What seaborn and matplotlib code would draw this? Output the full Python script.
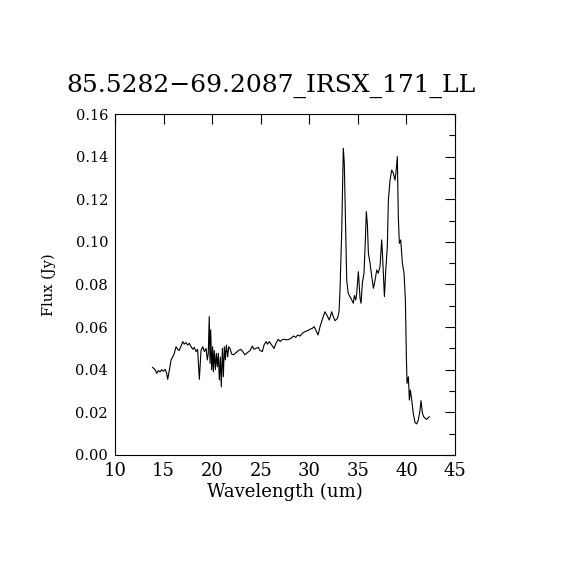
import numpy as np
import pandas as pd
import seaborn as sns
import matplotlib.pyplot as plt
from matplotlib.ticker import MultipleLocator, FormatStrFormatter

# Spectrum values
wavelength = [
    13.84, 14.12, 14.30, 14.46, 14.63, 14.80, 14.97, 15.15, 15.32, 15.42,
    15.60, 15.77, 15.94, 16.10, 16.28, 16.45, 16.60, 16.80, 16.97, 17.13,
    17.30, 17.48, 17.65, 17.80, 18.00, 18.16, 18.34, 18.50, 18.68, 18.85,
    19.03, 19.20, 19.37, 19.50, 19.60, 19.70, 19.78, 19.85, 19.95, 20.05,
    20.12, 20.22, 20.33, 20.43, 20.53, 20.63, 20.74, 20.84, 20.94, 21.05,
    21.15, 21.25, 21.36, 21.46, 21.60, 21.70, 21.84, 22.00, 22.18, 22.46,
    22.70, 22.94, 23.15, 23.38, 23.62, 23.90, 24.13, 24.30, 24.50, 24.75,
    24.93, 25.16, 25.34, 25.55, 25.70, 25.88, 26.13, 26.37, 26.57, 26.80,
    27.00, 27.16, 27.40, 27.67, 27.94, 28.19, 28.36, 28.60, 28.80, 29.04,
    29.28, 29.56, 29.80, 30.07, 30.30, 30.49, 30.66, 30.90, 31.10, 31.38,
    31.60, 31.80, 32.06, 32.30, 32.47, 32.65, 32.90, 33.06, 33.16, 33.34,
    33.44, 33.50, 33.60, 33.71, 33.85, 34.00, 34.19, 34.37, 34.53, 34.64,
    34.78, 34.88, 35.05, 35.22, 35.32, 35.46, 35.63, 35.77, 35.87, 35.98,
    36.08, 36.25, 36.43, 36.60, 36.77, 36.94, 37.10, 37.28, 37.45, 37.56,
    37.73, 37.87, 38.03, 38.14, 38.31, 38.48, 38.65, 38.82, 38.93, 39.06,
    39.16, 39.27, 39.41, 39.58, 39.75, 39.89, 39.99, 40.06, 40.20, 40.30,
    40.40, 40.54, 40.70, 40.88, 41.06, 41.22, 41.40, 41.50, 41.64, 41.80,
    42.08, 42.36,
]
flux = [
    0.0412, 0.0400, 0.0383, 0.0396, 0.0390, 0.0400, 0.0393, 0.0402, 0.0383, 0.0355,
    0.0400, 0.0446, 0.0460, 0.0477, 0.0508, 0.0496, 0.0490, 0.0511, 0.0532, 0.0520,
    0.0527, 0.0516, 0.0524, 0.0510, 0.0496, 0.0505, 0.0485, 0.0496, 0.0355, 0.0490,
    0.0508, 0.0485, 0.0500, 0.0446, 0.0477, 0.0649, 0.0430, 0.0587, 0.0400, 0.0508,
    0.0390, 0.0490, 0.0400, 0.0477, 0.0414, 0.0477, 0.0352, 0.0460, 0.0320, 0.0500,
    0.0367, 0.0508, 0.0446, 0.0516, 0.0460, 0.0508, 0.0500, 0.0474, 0.0470, 0.0480,
    0.0490, 0.0496, 0.0485, 0.0470, 0.0480, 0.0490, 0.0511, 0.0496, 0.0500, 0.0505,
    0.0490, 0.0485, 0.0516, 0.0532, 0.0520, 0.0532, 0.0516, 0.0500, 0.0524, 0.0543,
    0.0532, 0.0540, 0.0543, 0.0540, 0.0543, 0.0550, 0.0558, 0.0552, 0.0563, 0.0558,
    0.0571, 0.0579, 0.0583, 0.0590, 0.0594, 0.0602, 0.0587, 0.0563, 0.0602, 0.0641,
    0.0672, 0.0657, 0.0633, 0.0672, 0.0649, 0.0630, 0.0641, 0.0672, 0.0774, 0.1056,
    0.1306, 0.1439, 0.1369, 0.1118, 0.0821, 0.0759, 0.0743, 0.0727, 0.0712, 0.0748,
    0.0727, 0.0759, 0.0860, 0.0735, 0.0712, 0.0806, 0.0853, 0.1009, 0.1142, 0.1079,
    0.0947, 0.0900, 0.0837, 0.0782, 0.0821, 0.0868, 0.0853, 0.0884, 0.1009, 0.0915,
    0.0743, 0.0868, 0.0977, 0.1197, 0.1290, 0.1337, 0.1322, 0.1290, 0.1329, 0.1400,
    0.1118, 0.0993, 0.1009, 0.0900, 0.0853, 0.0727, 0.0461, 0.0336, 0.0367, 0.0258,
    0.0305, 0.0258, 0.0196, 0.0152, 0.0146, 0.0164, 0.0211, 0.0255, 0.0196, 0.0177,
    0.0167, 0.0180,
]
title = "85.5282\u221269.2087_IRSX_171_LL"

df = pd.DataFrame({"wavelength": wavelength, "flux": flux})

sns.set_style("white")
plt.rcParams["font.family"] = ["DejaVu Serif"]
plt.rcParams["text.color"] = "black"
plt.rcParams["axes.labelcolor"] = "black"
plt.rcParams["xtick.color"] = "black"
plt.rcParams["ytick.color"] = "black"

fig = plt.figure(figsize=(5.7, 5.7), dpi=100)
ax = fig.add_axes([0.2018, 0.2018, 0.5965, 0.5982])

sns.lineplot(data=df, x="wavelength", y="flux", color="black",
             linewidth=0.8, sort=False, estimator=None, ax=ax)

ax.set_xlim(10, 45)
ax.set_ylim(0, 0.16)
ax.xaxis.set_major_locator(MultipleLocator(5))
ax.yaxis.set_major_locator(MultipleLocator(0.02))
ax.yaxis.set_minor_locator(MultipleLocator(0.01))
ax.yaxis.set_major_formatter(FormatStrFormatter("%.2f"))

ax.tick_params(which="both", direction="in", top=True, right=True,
               color="black", width=0.8)
ax.tick_params(which="major", length=7)
ax.tick_params(which="minor", length=4)
ax.tick_params(axis="x", labelsize=13, pad=5)
ax.tick_params(axis="y", labelsize=10.5, pad=5)

for s in ax.spines.values():
    s.set_color("black")
    s.set_linewidth(0.8)

ax.set_xlabel("Wavelength (um)", fontsize=13, labelpad=2)
ax.set_ylabel("Flux (Jy)", fontsize=10.5)
ax.yaxis.set_label_coords(-0.175, 0.5)
ax.set_title(title, fontsize=18, pad=16, color="black", x=0.46)

fig.savefig("out.png", dpi=100, facecolor="white")
